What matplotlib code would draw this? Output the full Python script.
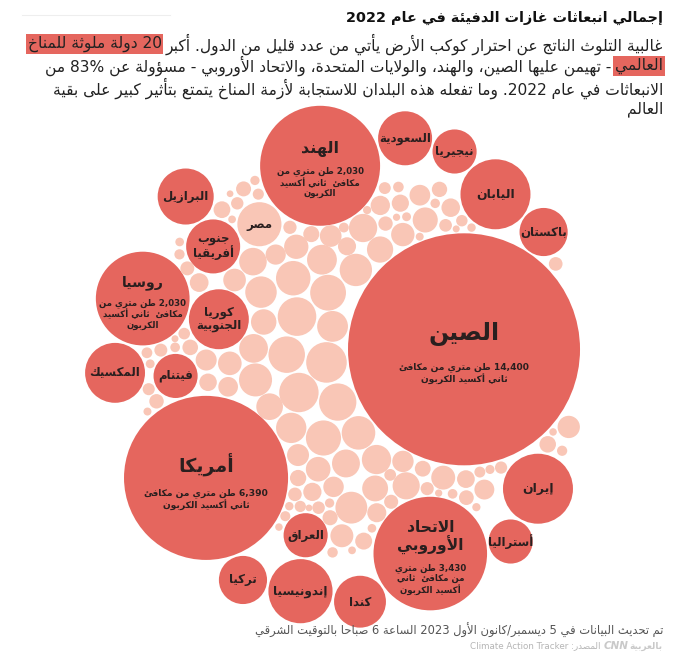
import re
import numpy as np
import matplotlib
matplotlib.use("Agg")
import matplotlib.pyplot as plt
from matplotlib.patches import Circle

# ---------------- data ----------------
# the 20 largest emitters (+ Egypt), listed clockwise round the chart from the top-left
countries = ["الهند", "السعودية", "نيجيريا", "اليابان", "باكستان", "الصين", "إيران",
             "أستراليا", "الاتحاد\nالأوروبي", "كندا", "العراق", "إندونيسيا", "تركيا",
             "أمريكا", "المكسيك", "فيتنام", "كوريا\nالجنوبية", "روسيا", "البرازيل",
             "جنوب\nأفريقيا", "مصر"]
# bubble sizes, MtCO2e
values = [3850, 780, 520, 1310, 620, 14400, 1310,
          520, 3450, 720, 520, 1100, 620,
          7200, 960, 520, 960, 2350, 840,
          780, 520]
top20 = [True] * 20 + [False]
# bubbles that sit in from the rim
inner = ["العراق", "فيتنام", "كوريا\nالجنوبية", "جنوب\nأفريقيا", "مصر"]

notes = {
    "الصين": "14,400 طن متري من مكافئ\nثاني أكسيد الكربون",
    "أمريكا": "6,390 طن متري من مكافئ\nثاني أكسيد الكربون",
    "الهند": "2,030 طن متري من\nمكافئ  ثاني أكسيد\nالكربون",
    "روسيا": "2,030 طن متري من\nمكافئ  ثاني أكسيد\nالكربون",
    "الاتحاد\nالأوروبي": "3,430 طن متري\nمن مكافئ  ثاني\nأكسيد الكربون",
}

# the rest of the world, unlabelled bubbles (MtCO2e, estimated)
others = [440, 415, 398, 372, 356, 343, 330, 318, 301, 292, 280, 271, 265, 254,
          246, 238, 229, 221, 214, 208, 203, 197, 190, 184, 179, 173, 168, 162,
          158, 153, 149, 146, 141, 137, 133, 129, 126, 122, 118, 115, 112, 109,
          106, 103, 100, 97, 94, 92, 89, 87, 84, 82, 79, 77, 75, 73, 71, 69, 67,
          65, 63, 61, 60, 58, 56, 55, 53, 52, 50, 49, 47, 46, 45, 43, 42, 41, 40,
          39, 38, 37, 36, 35, 34, 33, 32, 31, 30, 29, 28, 28, 27, 26, 25, 25, 24,
          23, 23, 22, 21, 21, 20, 20, 19, 19, 18, 18, 17, 17, 16, 16, 15, 15, 14,
          14, 13, 13, 12, 12]

title = "إجمالي انبعاثات غازات الدفيئة في عام 2022"
sub1a = "غالبية التلوث الناتج عن احترار كوكب الأرض يأتي من عدد قليل من الدول. أكبر"
sub1b = "20 دولة ملوثة للمناخ"
sub2a = "العالمي"
sub2b = "- تهيمن عليها الصين، والهند، والولايات المتحدة، والاتحاد الأوروبي - مسؤولة عن 83% من"
sub3 = "الانبعاثات في عام 2022. وما تفعله هذه البلدان للاستجابة لأزمة المناخ يتمتع بتأثير كبير على بقية"
sub4 = "العالم"
updated = "تم تحديث البيانات في 5 ديسمبر/كانون الأول 2023 الساعة 6 صباحا بالتوقيت الشرقي"
source = "المصدر: Climate Action Tracker"

RED = "#E5665E"
PEACH = "#F9C6B6"
INK = "#2a1f1f"

# ---------------- arabic shaping (matplotlib has no bidi / joining) ----------------
FORMS = {}
for ch, b in [("ئ", 0xFE89), ("ب", 0xFE8F), ("ت", 0xFE95), ("ث", 0xFE99), ("ج", 0xFE9D),
              ("ح", 0xFEA1), ("خ", 0xFEA5), ("س", 0xFEB1), ("ش", 0xFEB5), ("ص", 0xFEB9),
              ("ض", 0xFEBD), ("ط", 0xFEC1), ("ظ", 0xFEC5), ("ع", 0xFEC9), ("غ", 0xFECD),
              ("ف", 0xFED1), ("ق", 0xFED5), ("ك", 0xFED9), ("ل", 0xFEDD), ("م", 0xFEE1),
              ("ن", 0xFEE5), ("ه", 0xFEE9), ("ي", 0xFEF1)]:
    FORMS[ch] = (b, b + 1, b + 2, b + 3)
for ch, b in [("آ", 0xFE81), ("أ", 0xFE83), ("ؤ", 0xFE85), ("إ", 0xFE87), ("ا", 0xFE8D),
              ("ة", 0xFE93), ("د", 0xFEA9), ("ذ", 0xFEAB), ("ر", 0xFEAD), ("ز", 0xFEAF),
              ("و", 0xFEED), ("ى", 0xFEEF)]:
    FORMS[ch] = (b, b + 1, None, None)
LAM_ALEF = {"آ": 0xFEF5, "أ": 0xFEF7, "إ": 0xFEF9, "ا": 0xFEFB}
LTR = re.compile(r"[0-9A-Za-z%]+(?:[ .,:][0-9A-Za-z%]+)*")


def shape(s):
    toks = []
    i = 0
    while i < len(s):
        if s[i] == "ل" and i + 1 < len(s) and s[i + 1] in LAM_ALEF:
            toks.append(("LA", s[i + 1]))
            i += 2
        else:
            toks.append(("C", s[i]))
            i += 1

    def dual(t):
        return t[0] == "C" and t[1] in FORMS and FORMS[t[1]][2] is not None

    def joins(t):
        return t[0] == "LA" or t[1] in FORMS

    out = []
    for k, t in enumerate(toks):
        p = k > 0 and dual(toks[k - 1]) and joins(t)
        if t[0] == "LA":
            out.append(chr(LAM_ALEF[t[1]] + (1 if p else 0)))
            continue
        if t[1] not in FORMS:
            out.append(t[1])
            continue
        f = FORMS[t[1]]
        n = k + 1 < len(toks) and joins(toks[k + 1]) and f[2] is not None
        out.append(chr(f[3] if p and n else f[1] if p else f[2] if n else f[0]))
    return "".join(out)


def ar(text):
    lines = []
    for line in text.split("\n"):
        s = shape(line)
        parts, pos = [], 0
        for m in LTR.finditer(s):
            if m.start() > pos:
                parts.append(s[pos:m.start()][::-1])
            parts.append(m.group())
            pos = m.end()
        if pos < len(s):
            parts.append(s[pos:][::-1])
        lines.append("".join(reversed(parts)))
    return "\n".join(lines)


# ---------------- bubble layout (small force simulation) ----------------
K = 0.9667           # px of radius per sqrt(Mt)
CX, CY, R_OUT = 347, 366, 262
PAD = 2.5

r_main = K * np.sqrt(np.array(values, float))
r_fill = K * np.sqrt(np.array(others, float))
radii = np.concatenate([r_main, r_fill])
n_main = len(values)
n = len(radii)
big = int(np.argmax(r_main))
is_inner = np.array([c in inner for c in countries])

target = np.zeros(n)
target[:n_main] = R_OUT - r_main
target[big] = R_OUT - r_main[big] - 45
target[:n_main][is_inner] -= 90

# angular room each named bubble takes on the rim (inner ones take none)
half = np.minimum(np.arcsin(np.minimum(r_main / target[:n_main], 1)), 0.46)
half[is_inner] = 0
half += np.deg2rad(2)
ang = np.cumsum(2 * half) - half
ang = np.deg2rad(-30) + ang * 2 * np.pi / (2 * half.sum())

pos = np.zeros((n, 2))
pos[:n_main, 0] = target[:n_main] * np.sin(ang)
pos[:n_main, 1] = -target[:n_main] * np.cos(ang)
# fillers on a sunflower spiral
j = np.arange(len(r_fill))
rr = np.sqrt((j + 0.5) / len(r_fill)) * (R_OUT - 20)
th = j * np.pi * (3 - np.sqrt(5))
pos[n_main:, 0] = rr * np.cos(th)
pos[n_main:, 1] = rr * np.sin(th)

strength = np.full(n, 0.02)
strength[:n_main] = 0.12
mass = radii ** 2


def collide(pos, relax=0.5):
    diff = pos[:, None, :] - pos[None, :, :]
    dist = np.hypot(diff[..., 0], diff[..., 1]) + np.eye(n) + 1e-6
    overlap = np.clip(radii[:, None] + radii[None, :] + PAD - dist, 0, None)
    np.fill_diagonal(overlap, 0)
    w = mass[None, :] / (mass[:, None] + mass[None, :])
    push = diff / dist[..., None] * (overlap * w * relax)[..., None]
    return pos + push.sum(axis=1)


def clamp(pos):
    d = np.hypot(pos[:, 0], pos[:, 1]) + 1e-9
    lim = R_OUT - radii
    f = np.where(d > lim, lim / d, 1.0)
    return pos * f[:, None]


steps = 350
for it in range(steps):
    alpha = 1 - it / steps
    d = np.hypot(pos[:, 0], pos[:, 1]) + 1e-9
    pos -= pos / d[:, None] * ((d - target) * strength * alpha)[:, None]
    for _ in range(3):
        pos = collide(pos)
    pos = clamp(pos)
for _ in range(60):
    pos = clamp(collide(pos))

pos[:, 0] += CX
pos[:, 1] += CY

# ---------------- drawing ----------------
fig = plt.figure(figsize=(6.8, 6.63), dpi=100)
ax = fig.add_axes([0, 0, 1, 1])
ax.set_xlim(0, 680)
ax.set_ylim(663, 0)
ax.axis("off")
plt.rcParams["font.family"] = ["DejaVu Sans"]

for i in range(n):
    col = RED if (i < n_main and top20[i]) else PEACH
    ax.add_patch(Circle(pos[i], radii[i], fc=col, ec="none"))

for i, name in enumerate(countries):
    x, y = pos[i]
    r = radii[i]
    fs = np.clip(5.5 + r * 0.1, 8.5, 17)
    if name in notes:
        nfs = 6.6 if r > 80 else 6.2
        nl = notes[name].count("\n") + 1
        hl = name.count("\n") + 1
        h_name = hl * fs * 1.39 * 1.2
        h_note = nl * nfs * 1.39 * 1.25
        gap = 12 if r > 80 else 6
        y0 = y + 4 - (h_name + gap + h_note) / 2
        ax.text(x, y0, ar(name), ha="center", va="top", fontsize=fs,
                fontweight="bold", color=INK, linespacing=1.05)
        ax.text(x, y0 + h_name + gap, ar(notes[name]), ha="center", va="top",
                fontsize=nfs, fontweight="bold", color=INK, linespacing=1.15)
    else:
        ax.text(x, y, ar(name), ha="center", va="center", fontsize=fs,
                fontweight="bold", color=INK, linespacing=1.0)

# title + subtitle
RIGHT = 663
ax.text(RIGHT, 18, ar(title), ha="right", va="center", fontsize=10.4,
        fontweight="bold", color="#111111")
ax.plot([22, 170], [15, 15], color="#eeeeee", lw=0.8)

sfs = 11.2
fig.canvas.draw()
rend = fig.canvas.get_renderer()
inv = ax.transData.inverted()


def left_edge(t):
    bb = t.get_window_extent(rend)
    return inv.transform((bb.x0, bb.y0))[0]


hl_box = dict(boxstyle="square,pad=0.12", fc=RED, ec="none")
t1 = ax.text(RIGHT, 44, ar(sub1a), ha="right", va="center", fontsize=sfs, color="#222222")
ax.text(left_edge(t1) - 4, 44, ar(sub1b), ha="right", va="center", fontsize=sfs,
        color="#222222", bbox=hl_box)
t2 = ax.text(RIGHT, 66, ar(sub2a), ha="right", va="center", fontsize=sfs,
             color="#222222", bbox=hl_box)
ax.text(left_edge(t2) - 4, 66, ar(sub2b), ha="right", va="center", fontsize=sfs,
        color="#222222")
ax.text(RIGHT, 88, ar(sub3), ha="right", va="center", fontsize=sfs, color="#222222")
ax.text(RIGHT, 109, ar(sub4), ha="right", va="center", fontsize=sfs, color="#222222")

# footer
ax.text(RIGHT, 630, ar(updated), ha="right", va="center", fontsize=8.3, color="#555555")
ax.text(600, 646, ar(source), ha="right", va="center", fontsize=6.3, color="#b5b5b5")
ax.text(RIGHT, 646, ar("بالعربية"), ha="right", va="center", fontsize=6.5,
        fontweight="bold", color="#c9c9c9")
ax.text(628, 646, "CNN", ha="right", va="center", fontsize=7.5, fontweight="bold",
        fontstyle="italic", color="#c9c9c9")

fig.savefig("out.png", dpi=100)
